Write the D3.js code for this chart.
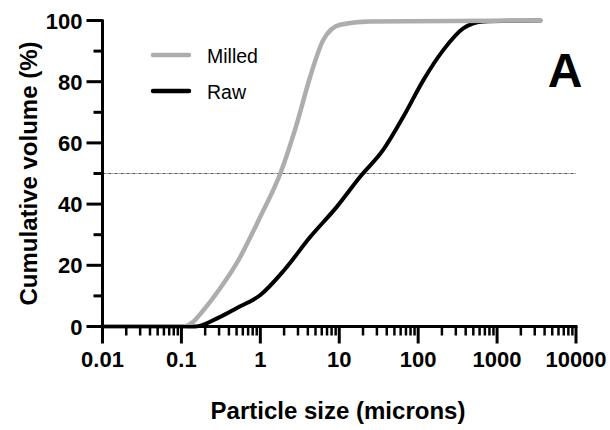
<!DOCTYPE html>
<html lang="en">
<head>
<meta charset="UTF-8">
<title>Particle size distribution</title>
<script src="https://d3js.org/d3.v7.min.js"></script>
<style>
    body { margin: 0; background: #fff; font-family: 'Liberation Sans', Arial, sans-serif; }
    .tick-label { font-weight: bold; font-size: 22px; fill: #000; }
    .axis-title { font-weight: bold; font-size: 24px; fill: #000; }
    .legend-text { font-size: 19.5px; fill: #000; }
</style>
</head>
<body>
<div id="chart"></div>
<script>
// Data
const milledSize = [0.01, 0.107, 0.14, 0.19, 0.3, 0.5, 1.0, 1.79, 2.91, 4.29, 6.3, 10.2, 24, 3550];
const milledVol  = [0, 0, 1.5, 5.3, 12, 20.6, 35.9, 50, 66.4, 81.7, 93.7, 98.6, 99.7, 100];
const rawSize = [0.01, 0.15, 0.3, 0.5, 1.0, 2.0, 4.3, 9.3, 18.5, 36, 65, 117, 209, 376, 676, 3550];
const rawVol  = [0, 0, 3.0, 6.0, 10.3, 18.4, 29.3, 39.1, 49, 57.7, 68.6, 80.6, 90.4, 97.5, 99.7, 100];
const xTicks = [0.01, 0.1, 1, 10, 100, 1000, 10000];
const xTickLabels = ["0.01", "0.1", "1", "10", "100", "1000", "10000"];
const yTicks = [0, 20, 40, 60, 80, 100];
const yMinor = [10, 30, 50, 70, 90];
const refLine = 50;

const W = 610, H = 430;
const svg = d3.select("#chart").append("svg").attr("width", W).attr("height", H);

// Scales
const x = d3.scaleLog().domain([0.01, 10000]).range([102.5, 576]);
const y = d3.scaleLinear().domain([0, 100]).range([326.5, 20.5]);

// Reference line at 50%
svg.append("line")
    .attr("x1", x(0.01)).attr("x2", x(10000))
    .attr("y1", y(refLine)).attr("y2", y(refLine))
    .attr("stroke", "#555").attr("stroke-width", 1)
    .attr("stroke-dasharray", "3,1,1,1");

// Curves
const line = d3.line()
    .x(d => x(d[0]))
    .y(d => y(d[1]))
    .curve(d3.curveMonotoneX);

svg.append("path")
    .datum(rawSize.map((s, i) => [s, rawVol[i]]))
    .attr("d", line)
    .attr("fill", "none").attr("stroke", "#000").attr("stroke-width", 4)
    .attr("stroke-linecap", "round");

svg.append("path")
    .datum(milledSize.map((s, i) => [s, milledVol[i]]))
    .attr("d", line)
    .attr("fill", "none").attr("stroke", "#adadb0").attr("stroke-width", 4.5)
    .attr("stroke-linecap", "round");

// Y axis
const yAxis = svg.append("g");
yAxis.append("line")
    .attr("x1", x(0.01)).attr("x2", x(0.01))
    .attr("y1", y(100) - 1).attr("y2", y(0) + 1.5)
    .attr("stroke", "#000").attr("stroke-width", 3);
yAxis.selectAll(".ymaj").data(yTicks).join("line")
    .attr("x1", x(0.01) - 16).attr("x2", x(0.01))
    .attr("y1", d => y(d)).attr("y2", d => y(d))
    .attr("stroke", "#000").attr("stroke-width", 3);
yAxis.selectAll(".ymin").data(yMinor).join("line")
    .attr("x1", x(0.01) - 9).attr("x2", x(0.01))
    .attr("y1", d => y(d)).attr("y2", d => y(d))
    .attr("stroke", "#000").attr("stroke-width", 3);
yAxis.selectAll("text").data(yTicks).join("text")
    .attr("class", "tick-label")
    .attr("x", x(0.01) - 20).attr("y", d => y(d) + 8)
    .attr("text-anchor", "end")
    .text(d => d);

// X axis
const xAxis = svg.append("g");
xAxis.append("line")
    .attr("x1", x(0.01) - 1.5).attr("x2", x(10000) + 1.5)
    .attr("y1", y(0)).attr("y2", y(0))
    .attr("stroke", "#000").attr("stroke-width", 3);
const minor = [];
for (let e = -2; e < 4; e++) {
    for (let m = 2; m <= 9; m++) minor.push(m * Math.pow(10, e));
}
xAxis.selectAll(".xmin").data(minor).join("line")
    .attr("x1", d => x(d)).attr("x2", d => x(d))
    .attr("y1", y(0)).attr("y2", y(0) + 9)
    .attr("stroke", "#000").attr("stroke-width", 2.5);
xAxis.selectAll(".xmaj").data(xTicks).join("line")
    .attr("x1", d => x(d)).attr("x2", d => x(d))
    .attr("y1", y(0)).attr("y2", y(0) + 17)
    .attr("stroke", "#000").attr("stroke-width", 3);
xAxis.selectAll("text").data(xTicks).join("text")
    .attr("class", "tick-label")
    .attr("x", d => x(d)).attr("y", 367)
    .attr("text-anchor", "middle")
    .text((d, i) => xTickLabels[i]);

// Axis titles
svg.append("text")
    .attr("class", "axis-title")
    .attr("transform", `translate(37,${y(50)}) rotate(-90)`)
    .attr("text-anchor", "middle")
    .text("Cumulative volume (%)");
svg.append("text")
    .attr("class", "axis-title")
    .attr("x", 338).attr("y", 419)
    .attr("text-anchor", "middle")
    .text("Particle size (microns)");

// Legend
const legend = [
    {name: "Milled", color: "#adadb0", y: 55},
    {name: "Raw", color: "#000", y: 91}
];
legend.forEach(l => {
    svg.append("line")
        .attr("x1", 153).attr("x2", 189)
        .attr("y1", l.y).attr("y2", l.y)
        .attr("stroke", l.color).attr("stroke-width", 4.5)
        .attr("stroke-linecap", "round");
    svg.append("text")
        .attr("class", "legend-text")
        .attr("x", 207).attr("y", l.y + 8)
        .text(l.name);
});

// Panel letter
svg.append("text")
    .attr("x", 565).attr("y", 87)
    .attr("text-anchor", "middle")
    .style("font-weight", "bold").style("font-size", "48px")
    .text("A");
</script>
</body>
</html>
